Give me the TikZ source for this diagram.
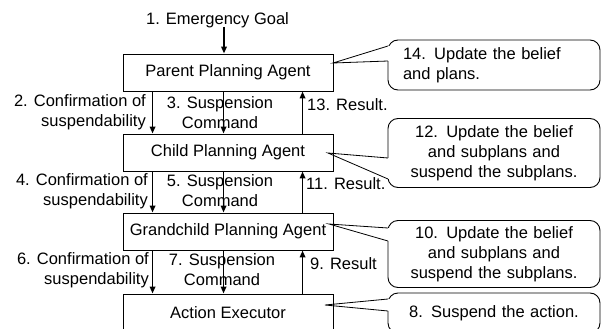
\documentclass[tikz,border=0pt]{standalone}
\usepackage{fontspec}
\setmainfont{Liberation Sans}
\usetikzlibrary{arrows.meta}
\begin{document}
\begin{tikzpicture}[x=1pt,y=-1pt,
  every node/.style={font=\fontsize{16.5}{20}\selectfont, inner sep=0pt},
  agent/.style={draw, line width=0.9pt, minimum width=210pt, minimum height=37pt},
  flow/.style={line width=1.8pt, -{Triangle[length=7pt,width=5.5pt]}},
  callout/.style={draw, line width=0.9pt, rounded corners=10pt, minimum width=212pt, text width=182pt, inner xsep=15pt},
  pointer/.style={line width=0.8pt}]
\useasboundingbox (0,0) rectangle (602,329);
\clip (0,0) rectangle (602,329);

% agents
\node[agent] (parent) at (228,72.5) {Parent Planning Agent};
\node[agent] (child) at (228,152.5) {Child Planning Agent};
\node[agent] (grand) at (228,231.5) {Grandchild Planning Agent};
\node[agent] (exec) at (228,312.5) {Action Executor};

% emergency goal
\node (goal) at (217.5,20) {1. Emergency Goal};
\coordinate (goalfoot) at (224,27);
\draw[flow] (goalfoot) -- (goalfoot |- parent.north);

% parent -> child
\draw[flow] ([xshift=30pt]parent.south west) -- ([xshift=30pt]child.north west);
\draw[flow] ([xshift=101pt]parent.south west) -- ([xshift=101pt]child.north west);
\draw[flow] ([xshift=180pt]child.north west) -- ([xshift=180pt]parent.south west);
\node[align=right, anchor=east] (conf2) at (146,112.5) {2. Confirmation of\\suspendability};
\node[align=center] (susp3) at (220,112.5) {3. Suspension\\Command};
\node[anchor=west] (res13) at (307,105) {13. Result.};

% child -> grandchild
\draw[flow] ([xshift=30pt]child.south west) -- ([xshift=30pt]grand.north west);
\draw[flow] ([xshift=101pt]child.south west) -- ([xshift=101pt]grand.north west);
\draw[flow] ([xshift=180pt]grand.north west) -- ([xshift=180pt]child.south west);
\node[align=right, anchor=east] (conf4) at (148,191) {4. Confirmation of\\suspendability};
\node[align=center] (susp5) at (220,191) {5. Suspension\\Command};
\node[anchor=west] (res11) at (306,184) {11. Result.};

% grandchild -> executor
\draw[flow] ([xshift=30pt]grand.south west) -- ([xshift=30pt]exec.north west);
\draw[flow] ([xshift=101pt]grand.south west) -- ([xshift=101pt]exec.north west);
\draw[flow] ([xshift=180pt]exec.north west) -- ([xshift=180pt]grand.south west);
\node[align=right, anchor=east] (conf6) at (149,270) {6. Confirmation of\\suspendability};
\node[align=center] (susp7) at (222,270) {7. Suspension\\Command};
\node[anchor=west] (res9) at (310,264) {9. Result};

% callouts
\node[callout, align=left, minimum height=50pt] (c14) at (494,65) {14. Update the belief\\and plans.};
\node[callout, align=center, minimum height=69pt] (c12) at (494,153) {12. Update the belief\\and subplans and\\suspend the subplans.};
\node[callout, align=center, minimum height=67pt] (c10) at (494,254) {10. Update the belief\\and subplans and\\suspend the subplans.};
\node[callout, align=center, minimum height=40pt] (c8) at (494,313) {8. Suspend the action.};

% pointers
\coordinate (t14) at (333,63);
\coordinate (b14a) at (388,46);
\coordinate (b14b) at (388,61);
\fill[white] ([xshift=-1.5pt]b14a) rectangle ([xshift=1.5pt]b14b);
\draw[pointer] (b14a) -- (t14) -- (b14b);

\coordinate (t12) at (328,153);
\coordinate (b12a) at (388,158);
\coordinate (b12b) at (388,179);
\fill[white] ([xshift=-1.5pt]b12a) rectangle ([xshift=1.5pt]b12b);
\draw[pointer] (b12a) -- (t12) -- (b12b);

\coordinate (t10) at (329,224);
\coordinate (b10a) at (388,228);
\coordinate (b10b) at (388,241);
\fill[white] ([xshift=-1.5pt]b10a) rectangle ([xshift=1.5pt]b10b);
\draw[pointer] (b10a) -- (t10) -- (b10b);

\coordinate (t8) at (325,305);
\coordinate (b8a) at (388,299);
\coordinate (b8b) at (388,311);
\fill[white] ([xshift=-1.5pt]b8a) rectangle ([xshift=1.5pt]b8b);
\draw[pointer] (b8a) -- (t8) -- (b8b);
\end{tikzpicture}
\end{document}
